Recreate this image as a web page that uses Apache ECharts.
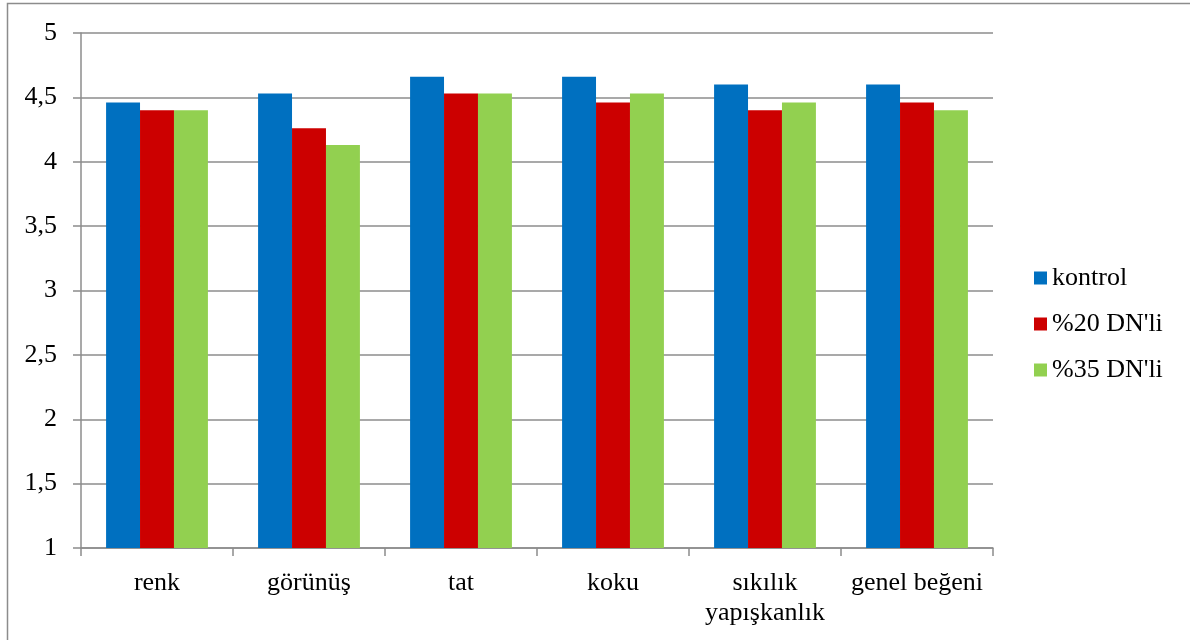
<!DOCTYPE html>
<html>
<head>
<meta charset="utf-8">
<script src="https://cdn.jsdelivr.net/npm/echarts@6/dist/echarts.min.js"></script>
<style>
  html, body { margin: 0; padding: 0; background: #fff; }
  #chart { width: 1190px; height: 640px; }
</style>
</head>
<body>
<div id="chart"></div>
<script>
// Sensory scores per attribute for the three formulations
const categories = ['renk', 'görünüş', 'tat', 'koku', 'sıkılık\nyapışkanlık', 'genel beğeni'];
const seriesNames = ['kontrol', "%20 DN'li", "%35 DN'li"];
const kontrol = [4.46, 4.53, 4.66, 4.66, 4.60, 4.60];
const dn20 = [4.40, 4.26, 4.53, 4.46, 4.40, 4.46];
const dn35 = [4.40, 4.13, 4.53, 4.53, 4.46, 4.40];
const yTicks = [1, 1.5, 2, 2.5, 3, 3.5, 4, 4.5, 5];
const colors = ['#0070C0', '#CC0000', '#92D050'];

const font = '"Liberation Serif", "DejaVu Serif", serif';
const fontSize = 26;
const gray = '#8c8c8c';

const chart = echarts.init(document.getElementById('chart'));
const values = [kontrol, dn20, dn35];

chart.setOption({
  animation: false,
  backgroundColor: '#fff',
  textStyle: { fontFamily: font, color: '#000' },
  graphic: [{
    type: 'rect',
    shape: { x: 7.5, y: 3.5, width: 1300, height: 800 },
    style: { fill: 'none', stroke: gray, lineWidth: 1.5 },
    silent: true
  }],
  grid: { left: 81, top: 33, right: 197, bottom: 92 },
  legend: {
    orient: 'vertical',
    left: 1029,
    top: 260,
    itemWidth: 13,
    itemHeight: 13,
    itemGap: 20,
    icon: 'rect',
    data: seriesNames,
    textStyle: { fontFamily: font, fontSize: fontSize, color: '#000' }
  },
  xAxis: {
    type: 'category',
    data: categories,
    axisLine: { lineStyle: { color: gray, width: 1.5 } },
    axisTick: { show: true, length: 8, lineStyle: { color: gray, width: 1.5 } },
    axisLabel: { fontFamily: font, fontSize: fontSize, color: '#000', margin: 20, lineHeight: 30, interval: 0 }
  },
  yAxis: {
    type: 'value',
    min: yTicks[0],
    max: yTicks[yTicks.length - 1],
    interval: 0.5,
    axisLine: { show: true, lineStyle: { color: gray, width: 1.5 } },
    axisTick: { show: true, length: 8, lineStyle: { color: gray, width: 1.5 } },
    splitLine: { lineStyle: { color: gray, width: 1.5 } },
    axisLabel: {
      fontFamily: font, fontSize: fontSize, color: '#000', margin: 24,
      formatter: v => String(v).replace('.', ',')
    }
  },
  series: seriesNames.map((name, i) => ({
    name,
    type: 'bar',
    data: values[i],
    barGap: '0%',
    barCategoryGap: '33%',
    itemStyle: { color: colors[i] }
  }))
});
</script>
</body>
</html>
